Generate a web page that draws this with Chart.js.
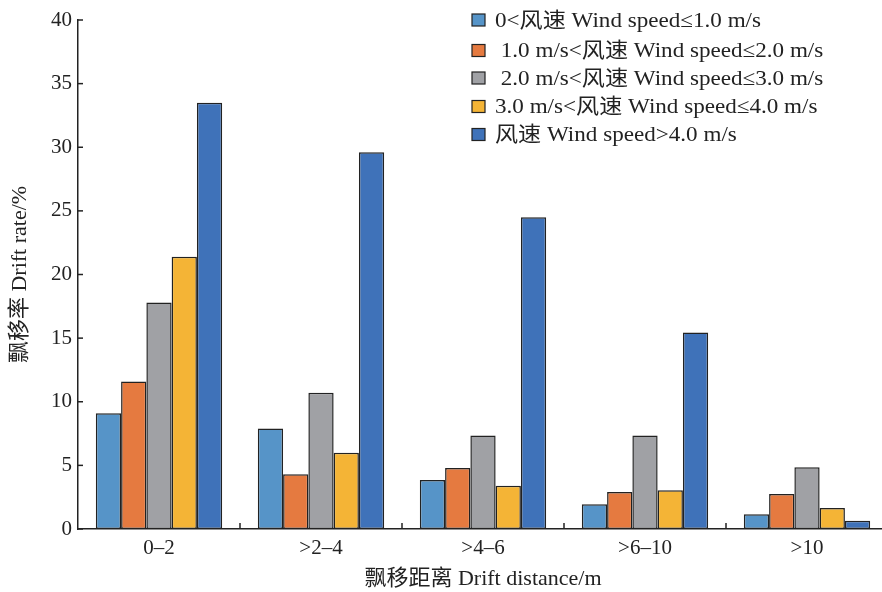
<!DOCTYPE html>
<html>
<head>
<meta charset="utf-8">
<script src="https://cdn.jsdelivr.net/npm/chart.js@4.4.1/dist/chart.umd.min.js"></script>
<style>
  html, body { margin: 0; padding: 0; background: #fff; overflow: hidden; }
  #wrap { position: relative; width: 890px; height: 592px; }
</style>
</head>
<body>
<div id="wrap"><canvas id="myChart" width="890" height="592"></canvas></div>
<script>
// categories and series
const distances = ['0–2', '>2–4', '>4–6', '>6–10', '>10'];
const speedLabels = [
  '0<风速 Wind speed≤1.0 m/s',
  ' 1.0 m/s<风速 Wind speed≤2.0 m/s',
  ' 2.0 m/s<风速 Wind speed≤3.0 m/s',
  '3.0 m/s<风速 Wind speed≤4.0 m/s',
  '风速 Wind speed>4.0 m/s'
];
const speed1 = [9.1, 7.9, 3.85, 1.95, 1.15];
const speed2 = [11.6, 4.3, 4.8, 2.9, 2.75];
const speed3 = [17.8, 10.7, 7.35, 7.35, 4.85];
const speed4 = [21.4, 6.0, 3.4, 3.05, 1.65];
const speed5 = [33.5, 29.6, 24.5, 15.45, 0.65];
const yTicks = [0, 5, 10, 15, 20, 25, 30, 35, 40];

const colors = ['#5694c8', '#e57a40', '#a0a1a5', '#f4b436', '#3f72b9'];
const FONT = "'Liberation Serif', 'Noto Sans CJK SC', serif";
const INK = '#222';

// short inward ticks like the original figure
const innerTicks = {
  id: 'innerTicks',
  afterDraw(chart) {
    const {ctx, chartArea, scales: {x, y}} = chart;
    ctx.save();
    ctx.strokeStyle = INK;
    ctx.lineWidth = 1.5;
    y.ticks.forEach((t, i) => {
      const py = y.getPixelForTick(i);
      ctx.beginPath();
      ctx.moveTo(chartArea.left, py);
      ctx.lineTo(chartArea.left + 5, py);
      ctx.stroke();
    });
    for (let i = 1; i < x.ticks.length; i++) {
      const px = (x.getPixelForTick(i - 1) + x.getPixelForTick(i)) / 2;
      ctx.beginPath();
      ctx.moveTo(px, chartArea.bottom);
      ctx.lineTo(px, chartArea.bottom - 6);
      ctx.stroke();
    }
    ctx.restore();
  }
};

// legend drawn inside the plot, top right
const legendRows = [20, 50.5, 78, 106.5, 134.5];
const boxLegend = {
  id: 'boxLegend',
  afterDraw(chart) {
    const {ctx} = chart;
    ctx.save();
    ctx.font = '21px ' + FONT;
    ctx.textBaseline = 'middle';
    chart.data.datasets.forEach((ds, i) => {
      const cy = legendRows[i];
      ctx.fillStyle = ds.backgroundColor;
      ctx.fillRect(472, cy - 6, 13, 12);
      ctx.strokeStyle = INK;
      ctx.lineWidth = 1.2;
      ctx.strokeRect(472, cy - 6, 13, 12);
      ctx.fillStyle = INK;
      // the printed figure's type is a little wider than Liberation Serif
      ctx.save();
      ctx.translate(495, cy + 1);
      ctx.scale(1.1, 1);
      ctx.fillText(ds.label, 0, 0);
      ctx.restore();
    });
    ctx.restore();
  }
};

const series = [speed1, speed2, speed3, speed4, speed5];

new Chart(document.getElementById('myChart'), {
  type: 'bar',
  data: {
    labels: distances,
    datasets: series.map((vals, i) => ({
      label: speedLabels[i],
      data: vals,
      backgroundColor: colors[i],
      borderColor: INK,
      borderWidth: 1.5,
      borderSkipped: false,
      categoryPercentage: 0.78,
      barPercentage: 1.0
    }))
  },
  options: {
    responsive: false,
    animation: false,
    devicePixelRatio: 1,
    layout: { padding: { top: 20, right: 2, left: 0, bottom: 0 } },
    plugins: {
      legend: { display: false },
      tooltip: { enabled: false }
    },
    scales: {
      x: {
        grid: { display: false, drawTicks: false },
        border: { color: INK, width: 1.5 },
        ticks: { color: INK, font: { family: FONT, size: 21 }, padding: 7, maxRotation: 0, autoSkip: false },
        title: {
          display: true,
          text: '飘移距离 Drift distance/m',
          color: INK,
          font: { family: FONT, size: 22 },
          padding: { top: 0, bottom: 0 }
        },
        afterFit(scale) { scale.height = 63; }
      },
      y: {
        min: 0,
        max: 40,
        afterBuildTicks(scale) { scale.ticks = yTicks.map(v => ({ value: v })); },
        grid: { display: false, drawTicks: false },
        border: { color: INK, width: 1.5 },
        ticks: { color: INK, font: { family: FONT, size: 21 }, padding: 6, autoSkip: false },
        title: {
          display: true,
          text: '飘移率 Drift rate/%',
          color: INK,
          font: { family: FONT, size: 22 },
          padding: { top: 7, bottom: 0 }
        },
        afterFit(scale) { scale.width = 78; }
      }
    }
  },
  plugins: [innerTicks, boxLegend]
});
</script>
</body>
</html>
